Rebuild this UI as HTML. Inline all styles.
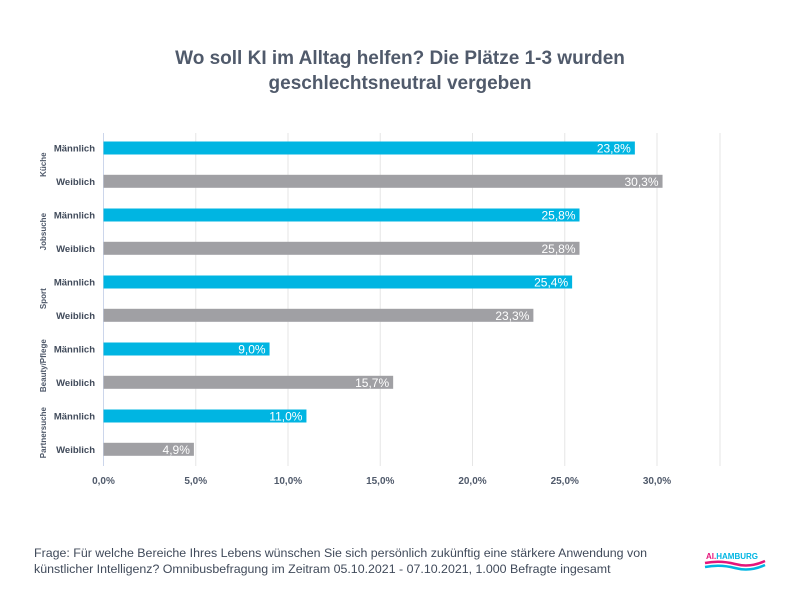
<!DOCTYPE html>
<html><head><meta charset="utf-8"><style>
body{margin:0;background:#fff;font-family:"Liberation Sans",sans-serif;}
#wrap{position:relative;width:800px;height:600px;overflow:hidden}
</style></head><body>
<div id="wrap">
<svg id="svg" width="800" height="600">
<text x="400" y="64" text-anchor="middle" font-size="19" font-weight="bold" fill="#505a6b">Wo soll KI im Alltag helfen? Die Plätze 1-3 wurden</text>
<text x="400" y="89" text-anchor="middle" font-size="19" font-weight="bold" fill="#505a6b">geschlechtsneutral vergeben</text>
<g id="grid"></g><g id="bars"></g><g id="labels"></g>
<text x="34" y="557" font-size="12.4" fill="#404a5a">Frage: Für welche Bereiche Ihres Lebens wünschen Sie sich persönlich zukünftig eine stärkere Anwendung von</text>
<text x="34" y="573" font-size="12.4" fill="#404a5a">künstlicher Intelligenz? Omnibusbefragung im Zeitram 05.10.2021 - 07.10.2021, 1.000 Befragte ingesamt</text>
<g>
<text x="706" y="559" font-size="8" font-weight="bold" fill="#e4157a">AI.<tspan fill="#00b5e2">HAMBURG</tspan></text>
<path d="M705,563 Q720,560 735,564 T765,561" stroke="#e4157a" stroke-width="2.5" fill="none"/>
<path d="M705,567 Q720,564 735,568 T765,565" stroke="#00b5e2" stroke-width="2.5" fill="none"/>
</g>
</svg></div>
<script>
const categories=["Küche","Jobsuche","Sport","Beauty/Pflege","Partnersuche"];
const maleValues=[28.8,25.8,25.4,9.0,11.0];
const femaleValues=[30.3,25.8,23.3,15.7,4.9];
const maleLabels=["23,8%","25,8%","25,4%","9,0%","11,0%"];
const femaleLabels=["30,3%","25,8%","23,3%","15,7%","4,9%"];
const ticks=[0,5,10,15,20,25,30];
const tickLabels=["0,0%","5,0%","10,0%","15,0%","20,0%","25,0%","30,0%"];
const NS="http://www.w3.org/2000/svg";
const x0=103.5,pxPer=(657-103.5)/30,yTop=133,yBot=466;
function xs(v){return x0+v*pxPer;}
function rowY(g,i){return 148+g*67+i*33.3;}
function mk(tag,attrs,parent){const e=document.createElementNS(NS,tag);for(const k in attrs)e.setAttribute(k,attrs[k]);parent.appendChild(e);return e;}
const grid=document.getElementById('grid'),bars=document.getElementById('bars'),labels=document.getElementById('labels');
ticks.forEach((t,i)=>{
 const l=mk('line',{x1:xs(t),x2:xs(t),y1:yTop,y2:yBot,stroke:i==0?'#ccd6eb':'#e6e6e6','stroke-width':1},grid);
 
 
 const tx=mk('text',{x:xs(t),y:484,'text-anchor':'middle','font-size':10,'font-weight':600,fill:'#505a6b'},labels);
 tx.textContent=tickLabels[i];
 
 
});
const edge=mk('line',{x1:720,x2:720,y1:yTop,y2:yBot,stroke:'#e6e6e6'},grid);


categories.forEach((c,g)=>{
 [[maleValues,maleLabels,'#00b5e2','Männlich'],[femaleValues,femaleLabels,'#a0a0a4','Weiblich']].forEach((s,i)=>{
  const y=rowY(g,i),v=s[0][g];
  const r=mk('rect',{x:x0,y:y-6.5,width:xs(v)-x0,height:13,fill:s[2]},bars);
  
  
  const vt=mk('text',{x:xs(v)-4,y:y+4.5,'text-anchor':'end','font-size':12,fill:'#fff'},labels);
  vt.textContent=s[1][g];
  
  
  const st=mk('text',{x:95,y:y+3.5,'text-anchor':'end','font-size':9.5,'font-weight':600,fill:'#404a5a'},labels);
  st.textContent=s[3];
  
  
 });
 const cy=(rowY(g,0)+rowY(g,1))/2;
 const ct=mk('text',{x:0,y:0,'text-anchor':'middle','font-size':8,'font-weight':600,fill:'#505a6b',transform:`translate(46,${cy}) rotate(-90)`},labels);
 ct.textContent=c;
 
 
});
</script>
</body></html>
